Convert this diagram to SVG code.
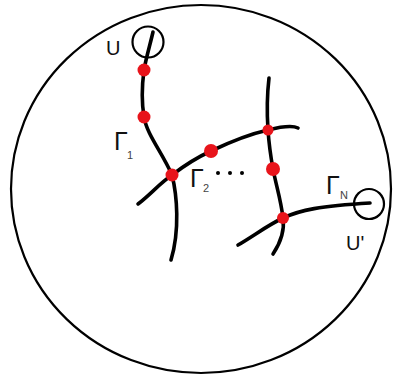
<svg xmlns="http://www.w3.org/2000/svg" width="393" height="379" viewBox="0 0 393 379">
<style>
.curve{fill:none;stroke:#000;stroke-width:3.6;stroke-linecap:round}
.ring{fill:none;stroke:#000;stroke-width:2.2}
.dot{fill:#e8141b}
.lbl{font-family:"Liberation Sans",Arial,sans-serif;fill:#111}
.big{font-size:25px}
.sub{font-size:11px;fill:#444}
.u{font-size:20px}
</style>
<rect width="393" height="379" fill="#fff"/>
<g id="domain"><ellipse class="ring" cx="201" cy="189" rx="190" ry="184" stroke-width="2.6"/></g>
<g id="connectors">
<path class="curve" d="M153,32 C150,45 146,58 144,70 C142,85 142,105 144,117 C147,135 162,152 172,175 C177,195 180,230 171,260"/>
<path class="curve" d="M138,204 C150,195 160,183 172,175 C185,165 198,157 211,151 C230,142 250,134 268,130 C280,127 292,125 298,128"/>
<path class="curve" d="M269,78 C267,95 267,115 268,130 C269,145 271,158 273,169 C276,185 281,200 283,218 C285,232 279,245 273,254"/>
<path class="curve" d="M238,245 C255,235 268,225 283,218 C300,210 320,206 370,203"/>
</g>
<g id="U"><circle class="ring" cx="148" cy="42" r="15.5"/><text class="lbl u" x="106" y="55">U</text></g>
<g id="Uprime"><circle class="ring" cx="369" cy="204" r="15"/><text class="lbl u" x="346" y="250">U'</text></g>
<g id="points">
<circle class="dot" cx="144" cy="70" r="6.5"/>
<circle class="dot" cx="144" cy="117" r="6.5"/>
<circle class="dot" cx="172" cy="175" r="6.5"/>
<circle class="dot" cx="211" cy="151" r="7"/>
<circle class="dot" cx="268" cy="130" r="5.5"/>
<circle class="dot" cx="273" cy="169" r="7"/>
<circle class="dot" cx="283" cy="218" r="6"/>
</g>
<g id="gamma1"><text class="lbl big" x="114" y="150">Γ</text><text class="lbl sub" x="127" y="159">1</text></g>
<g id="gamma2"><text class="lbl big" x="190" y="187">Γ</text><text class="lbl sub" x="203" y="192">2</text></g>
<g id="ellipsis"><circle cx="218" cy="173" r="2"/><circle cx="230" cy="173" r="2"/><circle cx="242" cy="173" r="2"/></g>
<g id="gammaN"><text class="lbl big" x="326" y="194">Γ</text><text class="lbl sub" x="340" y="199">N</text></g>
</svg>
